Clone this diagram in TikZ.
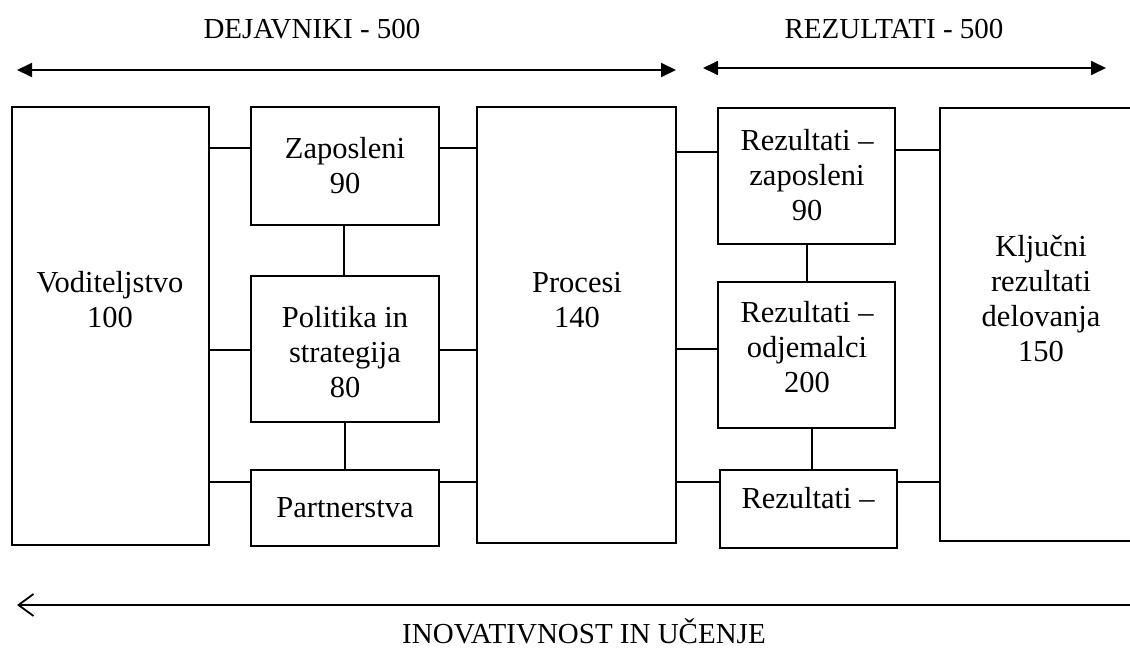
\documentclass[tikz,border=0pt]{standalone}
\usepackage{fontspec}
\setmainfont{Liberation Serif}
\usetikzlibrary{arrows.meta}
\begin{document}
\begin{tikzpicture}[x=1pt,y=-1pt,
  box/.style={draw, line width=1.8pt, inner sep=0pt, rectangle},
  lbl/.style={align=center, inner sep=0pt, font=\fontsize{30.5}{35}\selectfont},
  captxt/.style={inner sep=0pt, font=\fontsize{29}{34}\selectfont},
  conn/.style={line width=1.8pt},
  harrow/.style={line width=1.8pt, {Triangle[length=15pt,width=14pt]}-{Triangle[length=15pt,width=14pt]}},
  barrow/.style={line width=1.8pt, -{Straight Barb[length=15pt,width=22pt,line width=1.8pt]}}]
\useasboundingbox (0,0) rectangle (1130,650);
% captions
\node[captxt] (tdej) at (312,29) {DEJAVNIKI - 500};
\node[captxt] (trez) at (894,29) {REZULTATI - 500};
\node[captxt, anchor=base, text depth=0pt] (tino) at (584,643.5) {INOVATIVNOST IN UČENJE};
% arrows
\coordinate (a1l) at (17,70);
\coordinate (a1r) at (676,70);
\coordinate (a2l) at (703,68);
\coordinate (a2r) at (1106,68);
\coordinate (bR) at (1140,605);
\coordinate (bL) at (17,605);
\draw[harrow] (a1l) -- (a1r);
\draw[harrow] (a2l) -- (a2r);
\draw[barrow] (bR) -- (bL);
% boxes
\node[box, minimum width=197pt, minimum height=438pt] (vod) at (110.5,326) {};
\node[box, minimum width=188pt, minimum height=118pt] (zap) at (345,166) {};
\node[box, minimum width=188pt, minimum height=146pt] (pol) at (345,349) {};
\node[box, minimum width=188pt, minimum height=76pt] (par) at (345,508) {};
\node[box, minimum width=199pt, minimum height=436pt] (pro) at (576.5,325) {};
\node[box, minimum width=177pt, minimum height=136pt] (rzap) at (806.5,176) {};
\node[box, minimum width=177pt, minimum height=146pt] (rodj) at (806.5,355) {};
\node[box, minimum width=177pt, minimum height=78pt] (rbot) at (808.5,509) {};
\node[box, minimum width=220pt, minimum height=433pt] (klj) at (1050,324.5) {};
% texts
\node[lbl] (tvod) at (110,300) {Voditeljstvo\\100};
\node[lbl] (tzap) at (345,166) {Zaposleni\\90};
\node[lbl] (tpol) at (345,352) {Politika in\\strategija\\80};
\node[lbl] (tpar) at (345,508) {Partnerstva};
\node[lbl] (tpro) at (577,300) {Procesi\\140};
\node[lbl] (trzap) at (807,175) {Rezultati –\\zaposleni\\90};
\node[lbl] (trodj) at (807,347) {Rezultati –\\odjemalci\\200};
\node[lbl] (trbot) at (808,498) {Rezultati –};
\node[lbl] (tklj) at (1041,299) {Ključni\\rezultati\\delovanja\\150};
% connectors
\draw[conn] (vod.east |- 0,148) -- (zap.west |- 0,148);
\draw[conn] (vod.east |- 0,350) -- (pol.west |- 0,350);
\draw[conn] (vod.east |- 0,482) -- (par.west |- 0,482);
\draw[conn] (zap.east |- 0,148) -- (pro.west |- 0,148);
\draw[conn] (pol.east |- 0,350) -- (pro.west |- 0,350);
\draw[conn] (par.east |- 0,482) -- (pro.west |- 0,482);
\draw[conn] (zap.south -| 344,0) -- (pol.north -| 344,0);
\draw[conn] (pol.south -| 345,0) -- (par.north -| 345,0);
\draw[conn] (pro.east |- 0,152) -- (rzap.west |- 0,152);
\draw[conn] (pro.east |- 0,349) -- (rodj.west |- 0,349);
\draw[conn] (pro.east |- 0,482) -- (rbot.west |- 0,482);
\draw[conn] (rzap.east |- 0,150) -- (klj.west |- 0,150);
\draw[conn] (rbot.east |- 0,482) -- (klj.west |- 0,482);
\draw[conn] (rzap.south -| 807,0) -- (rodj.north -| 807,0);
\draw[conn] (rodj.south -| 812,0) -- (rbot.north -| 812,0);
\end{tikzpicture}
\end{document}
